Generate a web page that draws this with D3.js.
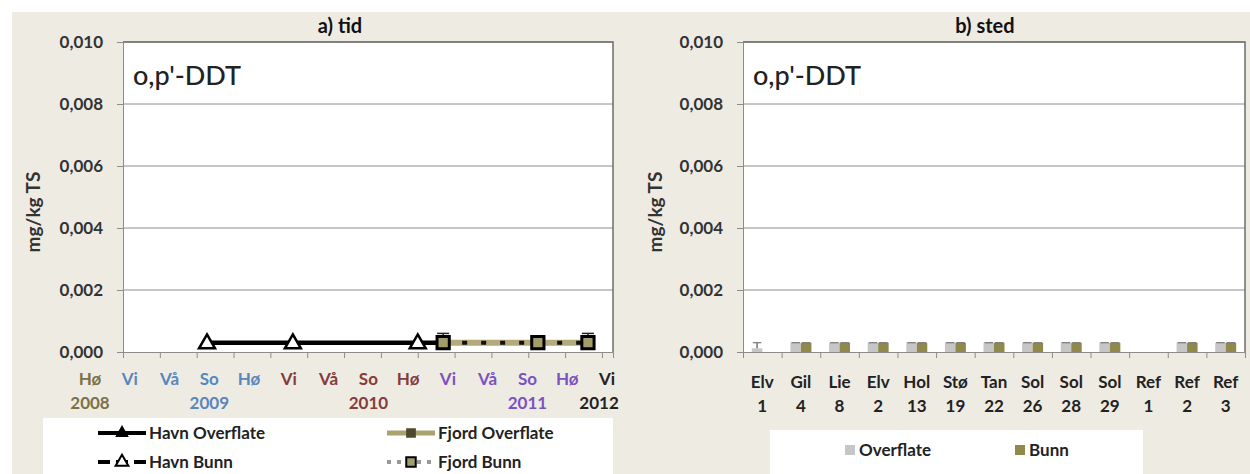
<!DOCTYPE html>
<html lang="no">
<head>
    <meta charset="UTF-8">
    <title>o,p'-DDT</title>
    <script src="https://d3js.org/d3.v7.min.js"></script>
    <style>
        body { margin: 0; background: #fff; }
        text { font-family: Lato, "Open Sans", sans-serif; }
    </style>
</head>
<body>

<script>
    // ---- data: a) tid ----
    seasons = ["Hø", "Vi", "Vå", "So", "Hø", "Vi", "Vå", "So", "Hø", "Vi", "Vå", "So", "Hø", "Vi"]
    seasonColors = ["#7a7246", "#5a86bd", "#5a86bd", "#5a86bd", "#5a86bd", "#843c3c", "#843c3c", "#843c3c",
                    "#843c3c", "#7b52bf", "#7b52bf", "#7b52bf", "#7b52bf", "#222"]
    years = [{label: "2008", at: 0, color: "#7a7246"}, {label: "2009", at: 3, color: "#5a86bd"},
             {label: "2010", at: 7, color: "#843c3c"}, {label: "2011", at: 11, color: "#7b52bf"},
             {label: "2012", at: 12.8, color: "#222"}]

    // sampling time (axis tick units) and values, mg/kg TS
    havnTime = [2.28, 4.61, 8.0, 8.69]
    havnOverflate = [0.0003, 0.0003, 0.0003, 0.0003]
    havnBunn = [0.0003, 0.0003, 0.0003, 0.0003]
    fjordTime = [8.69, 11.26, 12.62]
    fjordOverflate = [0.0003, 0.0003, 0.0003]
    fjordBunn = [0.0003, 0.0003, 0.0003]
    fjordErr = [0.0003, 0, 0.0003]

    // ---- data: b) sted ----
    sites = ["Elv|1", "Gil|4", "Lie|8", "Elv|2", "Hol|13", "Stø|19", "Tan|22", "Sol|26", "Sol|28", "Sol|29", "Ref|1", "Ref|2", "Ref|3"]
    stedOverflate = [0.00012, 0.0003, 0.0003, 0.0003, 0.0003, 0.0003, 0.0003, 0.0003, 0.0003, 0.0003, null, 0.0003, 0.0003]
    stedOverflateErr = [0.00018, 0, 0, 0, 0, 0, 0, 0, 0, 0, 0, 0, 0]
    stedBunn = [null, 0.0003, 0.0003, 0.0003, 0.0003, 0.0003, 0.0003, 0.0003, 0.0003, 0.0003, null, 0.0003, 0.0003]

    yTicks = [0, 0.002, 0.004, 0.006, 0.008, 0.010]

    W = 1250
    H = 474
    bg = "#eeebe3"
    fmt = d => d3.format(".3f")(d).replace(".", ",")

    svg = d3.select("body").append("svg")
        .attr("width", W).attr("height", H)

    svg.append("rect").attr("x", 12).attr("y", 12).attr("width", W - 12).attr("height", H - 12).attr("fill", bg)

    y = d3.scaleLinear().domain([0, 0.010]).range([352, 42])

    function panel(x0, x1, title, titleX, ylabX) {
        svg.append("rect").attr("x", x0).attr("y", y(0.010)).attr("width", x1 - x0)
            .attr("height", y(0) - y(0.010)).attr("fill", "#fff")
        // grid
        svg.append("g").selectAll("line").data(yTicks.slice(1)).join("line")
            .attr("x1", x0).attr("x2", x1).attr("y1", d => y(d)).attr("y2", d => y(d))
            .attr("stroke", "#8c8c8c").attr("stroke-width", 1)
        // frame top/right
        svg.append("path").attr("d", `M${x0},${y(0.010)}H${x1}V${y(0)}`)
            .attr("fill", "none").attr("stroke", "#6e6e6e").attr("stroke-width", 1.5)
        // y axis
        g = svg.append("g").attr("transform", `translate(${x0},0)`)
            .call(d3.axisLeft(y).tickValues(yTicks).tickFormat(fmt).tickSize(6).tickPadding(14))
        g.select(".domain").attr("stroke", "#8c8c8c")
        g.selectAll(".tick line").attr("stroke", "#8c8c8c")
        g.selectAll("text").attr("font-size", 17).attr("font-weight", 700).attr("fill", "#333")
        svg.append("text").attr("transform", `translate(${ylabX},212) rotate(-90)`)
            .attr("text-anchor", "middle").attr("dy", "0.35em")
            .attr("font-size", 19).attr("font-weight", 700).attr("fill", "#333").text("mg/kg TS")
        svg.append("text").attr("x", titleX).attr("y", 33).attr("text-anchor", "middle")
            .attr("font-size", 20).attr("font-weight", 700).attr("fill", "#111").text(title)
        svg.append("text").attr("x", x0 + 10).attr("y", 85)
            .attr("font-size", 27).attr("font-weight", 500).attr("fill", "#222").text("o,p'-DDT")
    }

    // ================= a) tid =================
    panel(123, 613, "a) tid", 340, 33)

    x = d3.scaleLinear().domain([0, 13.3]).range([123, 613])
    gx = svg.append("g").attr("transform", `translate(0,${y(0)})`)
        .call(d3.axisBottom(x).tickValues(d3.range(0, 14)).tickFormat("").tickSize(6))
    gx.selectAll("path, line").attr("stroke", "#8c8c8c")

    xs = d3.scalePoint().domain(d3.range(seasons.length)).range([90, 607])
    svg.append("g").selectAll("text").data(seasons).join("text")
        .attr("x", (d, i) => xs(i)).attr("y", 385).attr("text-anchor", "middle")
        .attr("font-size", 17).attr("font-weight", 700)
        .attr("fill", (d, i) => seasonColors[i]).text(d => d)
    yearX = d3.scaleLinear().domain([0, 13]).range([90, 607])
    svg.append("g").selectAll("text").data(years).join("text")
        .attr("x", d => yearX(d.at)).attr("y", 409).attr("text-anchor", "middle")
        .attr("font-size", 17).attr("font-weight", 700)
        .attr("fill", d => d.color).text(d => d.label)

    line = d3.line().x(d => x(d[0])).y(d => y(d[1]))
    havnO = havnTime.map((t, i) => [t, havnOverflate[i]])
    havnB = havnTime.map((t, i) => [t, havnBunn[i]])
    fjordO = fjordTime.map((t, i) => [t, fjordOverflate[i]])
    fjordB = fjordTime.map((t, i) => [t, fjordBunn[i]])

    tri = d3.symbol().type(d3.symbolTriangle)
    sq = d3.symbol().type(d3.symbolSquare)

    svg.append("path").datum(havnB).attr("d", line).attr("fill", "none")
        .attr("stroke", "#000").attr("stroke-width", 3).attr("stroke-dasharray", "10,5")
    svg.append("path").datum(havnO).attr("d", line).attr("fill", "none")
        .attr("stroke", "#000").attr("stroke-width", 4.5)
    svg.append("g").selectAll("path").data(havnB.slice(0, 3)).join("path")
        .attr("transform", d => `translate(${x(d[0])},${y(d[1]) + 1})`)
        .attr("d", tri.size(110)).attr("fill", "#fff").attr("stroke", "#000").attr("stroke-width", 2.5)

    svg.append("path").datum(fjordO).attr("d", line).attr("fill", "none")
        .attr("stroke", "#b3ab7b").attr("stroke-width", 6)
    svg.append("path").datum(fjordB).attr("d", line).attr("fill", "none")
        .attr("stroke", "#111").attr("stroke-width", 4).attr("stroke-dasharray", "5,14")
    // error bars
    eg = svg.append("g").selectAll("g").data(fjordB.filter((d, i) => fjordErr[i] > 0)
        .map(d => [d[0], d[1], fjordErr[fjordB.indexOf(d)]])).join("g")
    eg.append("line").attr("x1", d => x(d[0])).attr("x2", d => x(d[0]))
        .attr("y1", d => y(d[1])).attr("y2", d => y(d[1] + d[2])).attr("stroke", "#222").attr("stroke-width", 1.5)
    eg.append("line").attr("x1", d => x(d[0]) - 6).attr("x2", d => x(d[0]) + 6)
        .attr("y1", d => y(d[1] + d[2])).attr("y2", d => y(d[1] + d[2])).attr("stroke", "#222").attr("stroke-width", 1.5)
    svg.append("g").selectAll("path").data(fjordB).join("path")
        .attr("transform", d => `translate(${x(d[0])},${y(d[1])})`)
        .attr("d", sq.size(150)).attr("fill", "#a39d6c").attr("stroke", "#000").attr("stroke-width", 3)

    // legend a
    svg.append("rect").attr("x", 43).attr("y", 418).attr("width", 570).attr("height", 56).attr("fill", "#fff")
    lg = [
        {name: "Havn Overflate", x: 98, y: 433, stroke: "#000", w: 4, dash: null, sym: tri, fill: "#000", ms: 45, mstroke: "#000"},
        {name: "Havn Bunn", x: 98, y: 462, stroke: "#000", w: 4, dash: "12,6", sym: tri, fill: "#fff", ms: 70, mstroke: "#000"},
        {name: "Fjord Overflate", x: 387, y: 433, stroke: "#aaa36f", w: 5, dash: null, sym: sq, fill: "#4d4a30", ms: 60, mstroke: "#4d4a30"},
        {name: "Fjord Bunn", x: 387, y: 462, stroke: "#999", w: 4, dash: "4,6", sym: sq, fill: "#a39d6c", ms: 90, mstroke: "#000"}
    ]
    li = svg.append("g").selectAll("g").data(lg).join("g")
    li.append("line").attr("x1", d => d.x).attr("x2", d => d.x + 48).attr("y1", d => d.y).attr("y2", d => d.y)
        .attr("stroke", d => d.stroke).attr("stroke-width", d => d.w).attr("stroke-dasharray", d => d.dash)
    li.append("path").attr("transform", d => `translate(${d.x + 24},${d.y})`)
        .attr("d", d => d.sym.size(d.ms)()).attr("fill", d => d.fill).attr("stroke", d => d.mstroke).attr("stroke-width", 2)
    li.append("text").attr("x", d => d.x + 51).attr("y", d => d.y).attr("dy", "0.35em")
        .attr("font-size", 17).attr("font-weight", 700).attr("fill", "#222").text(d => d.name)

    // ================= b) sted =================
    panel(743, 1245, "b) sted", 985, 655)

    xb = d3.scaleBand().domain(sites).range([743, 1245])
    inner = d3.scaleBand().domain(["Overflate", "Bunn"]).range([0, xb.bandwidth()]).paddingOuter(0.84)
    xt = d3.scaleLinear().domain([0, sites.length]).range([743, 1245])
    gb = svg.append("g").attr("transform", `translate(0,${y(0)})`)
        .call(d3.axisBottom(xt).tickValues(d3.range(0, sites.length + 1)).tickFormat("").tickSize(6))
    gb.selectAll("path, line").attr("stroke", "#8c8c8c")

    st = svg.append("g").selectAll("text").data(sites).join("text")
        .attr("x", d => xb(d) + xb.bandwidth() / 2).attr("y", 388).attr("text-anchor", "middle")
        .attr("font-size", 17).attr("font-weight", 700).attr("fill", "#222")
    st.append("tspan").attr("x", d => xb(d) + xb.bandwidth() / 2).text(d => d.split("|")[0])
    st.append("tspan").attr("x", d => xb(d) + xb.bandwidth() / 2).attr("dy", 24).text(d => d.split("|")[1])

    barData = []
    sites.forEach((s, i) => {
        if (stedOverflate[i] != null) barData.push({site: s, key: "Overflate", v: stedOverflate[i], e: stedOverflateErr[i]})
        if (stedBunn[i] != null) barData.push({site: s, key: "Bunn", v: stedBunn[i], e: 0})
    })
    barColor = {Overflate: "#c6c6c6", Bunn: "#8f8a4c"}
    svg.append("g").selectAll("rect").data(barData).join("rect")
        .attr("x", d => xb(d.site) + inner(d.key)).attr("width", inner.bandwidth())
        .attr("y", d => y(d.v)).attr("height", d => y(0) - y(d.v))
        .attr("fill", d => barColor[d.key])
    // error caps
    ec = svg.append("g").selectAll("g").data(barData).join("g")
    ec.append("line")
        .attr("x1", d => xb(d.site) + inner(d.key) + inner.bandwidth() / 2)
        .attr("x2", d => xb(d.site) + inner(d.key) + inner.bandwidth() / 2)
        .attr("y1", d => y(d.v)).attr("y2", d => y(d.v + d.e)).attr("stroke", "#555").attr("stroke-width", 1.2)
    ec.append("line")
        .attr("x1", d => xb(d.site) + inner(d.key) + 1)
        .attr("x2", d => xb(d.site) + inner(d.key) + inner.bandwidth() - 1)
        .attr("y1", d => y(d.v + d.e)).attr("y2", d => y(d.v + d.e)).attr("stroke", "#777").attr("stroke-width", 1.2)

    // legend b
    svg.append("rect").attr("x", 770).attr("y", 430).attr("width", 373).attr("height", 44).attr("fill", "#fff")
    lb = svg.append("g").selectAll("g").data([{k: "Overflate", x: 845}, {k: "Bunn", x: 1015}]).join("g")
    lb.append("rect").attr("x", d => d.x).attr("y", 445).attr("width", 10).attr("height", 10).attr("fill", d => barColor[d.k])
    lb.append("text").attr("x", d => d.x + 14).attr("y", 450).attr("dy", "0.35em")
        .attr("font-size", 17).attr("font-weight", 700).attr("fill", "#222").text(d => d.k)
</script>

</body>
</html>
